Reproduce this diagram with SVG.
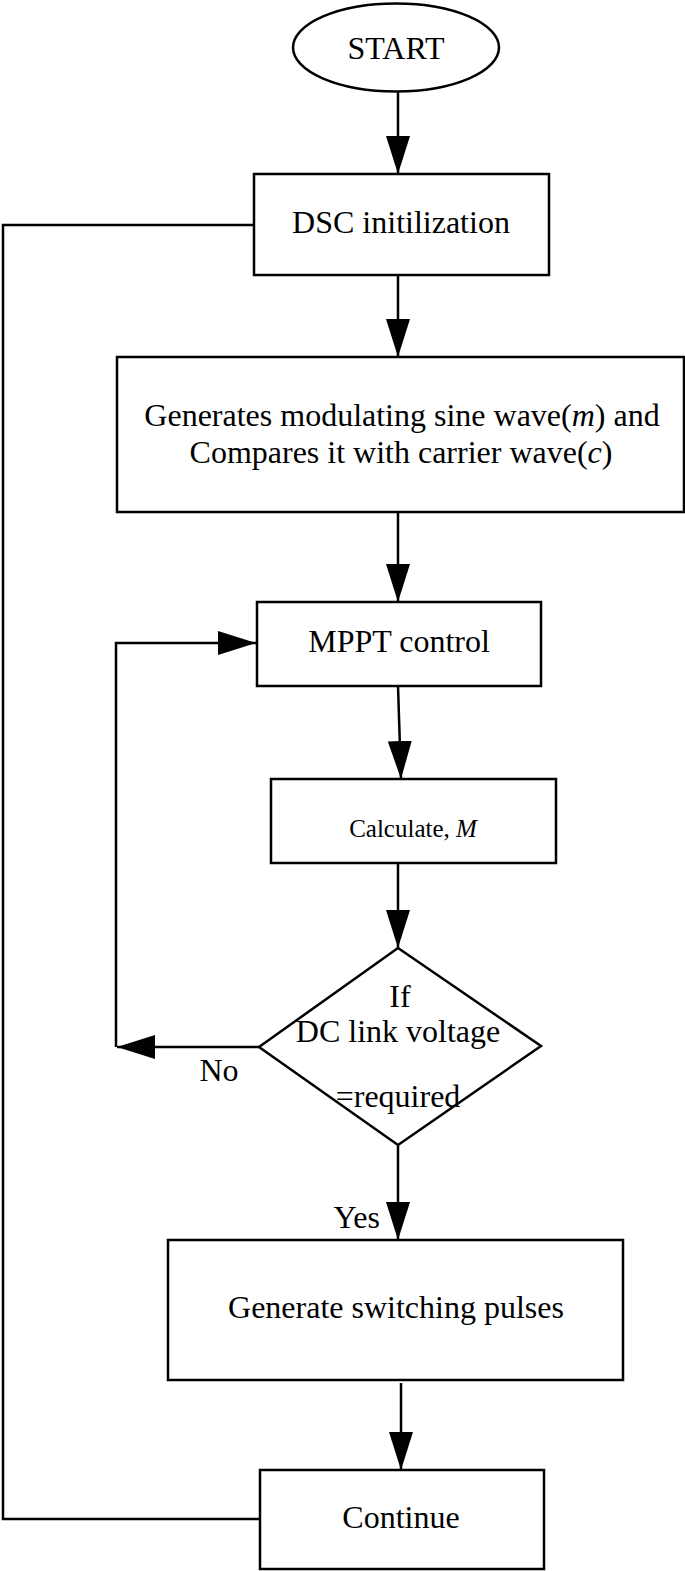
<svg xmlns="http://www.w3.org/2000/svg" width="685" height="1571" viewBox="0 0 685 1571">
<style>
.box{fill:#fff;stroke:#000;stroke-width:2.5}
.ln{fill:none;stroke:#000;stroke-width:2.5}
.t{font-family:"Liberation Serif","Times New Roman",serif;font-size:32px;fill:#000;text-anchor:middle}
.s{font-size:25px}
</style>
<defs>
<marker id="ah" viewBox="0 0 38 24" refX="38" refY="12" markerWidth="38" markerHeight="24" markerUnits="userSpaceOnUse" orient="auto">
<path d="M0,0 L38,12 L0,24 z" fill="#000"/>
</marker>
</defs>
<rect width="685" height="1571" fill="#fff"/>
<g id="connectors">
<line class="ln" x1="398" y1="92" x2="398" y2="174" marker-end="url(#ah)"/>
<line class="ln" x1="398" y1="275" x2="398" y2="357" marker-end="url(#ah)"/>
<line class="ln" x1="398" y1="512" x2="398" y2="602" marker-end="url(#ah)"/>
<line class="ln" x1="398" y1="686" x2="401" y2="779" marker-end="url(#ah)"/>
<line class="ln" x1="398" y1="863" x2="398" y2="948" marker-end="url(#ah)"/>
<line class="ln" x1="259" y1="1047" x2="117" y2="1047" marker-end="url(#ah)"/>
<path class="ln" d="M116,1047 L116,643 L256,643" marker-end="url(#ah)"/>
<line class="ln" x1="398" y1="1146" x2="398" y2="1240" marker-end="url(#ah)"/>
<line class="ln" x1="401" y1="1383" x2="401" y2="1470" marker-end="url(#ah)"/>
<path class="ln" d="M260,1519 L3,1519 L3,225 L254,225"/>
<text class="t" x="219" y="1081">No</text>
<text class="t" x="380" y="1228" style="text-anchor:end">Yes</text>
</g>
<g id="start">
<ellipse class="box" cx="396" cy="47.5" rx="103" ry="44"/>
<text class="t" x="396" y="59">START</text>
</g>
<g id="dsc">
<rect class="box" x="254" y="174" width="295" height="101"/>
<text class="t" x="401" y="233">DSC initilization</text>
</g>
<g id="generate">
<rect class="box" x="117" y="357" width="567" height="155"/>
<text class="t" x="402" y="426">Generates modulating sine wave(<tspan font-style="italic">m</tspan>) and</text>
<text class="t" x="401" y="463">Compares it with carrier wave(<tspan font-style="italic">c</tspan>)</text>
</g>
<g id="mppt">
<rect class="box" x="257" y="602" width="284" height="84"/>
<text class="t" x="399" y="652">MPPT control</text>
</g>
<g id="calculate">
<rect class="box" x="271" y="779" width="285" height="84"/>
<text class="t s" x="413" y="837">Calculate, <tspan font-style="italic">M</tspan></text>
</g>
<g id="decision">
<polygon class="box" points="398,948 541,1046 398,1145 259,1047"/>
<text class="t" x="400" y="1007">If</text>
<text class="t" x="398" y="1042">DC link voltage</text>
<text class="t" x="398" y="1107">=required</text>
</g>
<g id="pulses">
<rect class="box" x="168" y="1240" width="455" height="140"/>
<text class="t" x="396" y="1318">Generate switching pulses</text>
</g>
<g id="continue">
<rect class="box" x="260" y="1470" width="284" height="99"/>
<text class="t" x="401" y="1528">Continue</text>
</g>
</svg>
